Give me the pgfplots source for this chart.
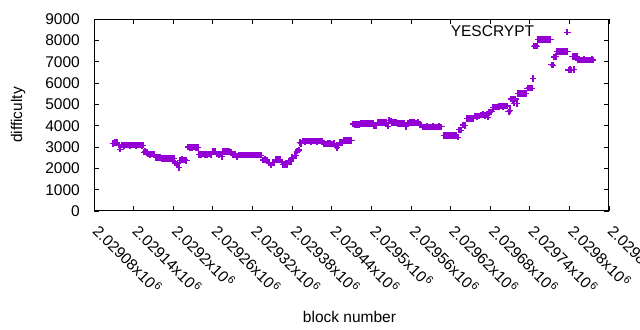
\documentclass[border=0pt]{standalone}
\usepackage{pgfplots}
\pgfplotsset{compat=1.18}
\usepackage{fontspec}
\setmainfont{Liberation Sans}
\definecolor{dv}{HTML}{9400D3}
\pgfdeclareplotmark{gpplus}{%
  \pgfsetlinewidth{1.1bp}%
  \pgfpathmoveto{\pgfqpoint{-\pgfplotmarksize}{0pt}}%
  \pgfpathlineto{\pgfqpoint{\pgfplotmarksize}{0pt}}%
  \pgfusepathqstroke
  \pgfsetlinewidth{2bp}%
  \pgfpathmoveto{\pgfqpoint{0pt}{-\pgfplotmarksize}}%
  \pgfpathlineto{\pgfqpoint{0pt}{\pgfplotmarksize}}%
  \pgfusepathqstroke
}
% x = block number - 2029000
\pgfplotstableread{
x y
109 3170
112 3200
115 3220
118 3100
120 2900
122 3100
125 3080
128 3090
131 3100
134 3080
137 3090
140 3100
143 3080
146 3090
149 3100
152 3080
154 3090
156 2760
158 2800
160 2750
162 2680
165 2660
168 2670
171 2660
174 2520
177 2500
180 2510
183 2470
186 2450
189 2460
192 2470
195 2450
198 2460
201 2450
203 2250
206 2200
209 2020
211 2380
214 2400
217 2390
220 2380
223 3000
226 2980
229 2990
232 3000
235 2980
237 2990
239 2660
242 2650
245 2670
248 2660
251 2650
254 2670
257 2660
260 2800
263 2780
266 2670
269 2660
272 2670
274 2550
276 2790
279 2780
282 2800
285 2790
288 2740
291 2650
294 2650
297 2550
300 2630
303 2620
306 2630
309 2620
312 2630
315 2620
318 2630
321 2620
324 2630
327 2620
330 2630
333 2620
336 2390
339 2400
342 2380
345 2290
348 2150
351 2270
353 2280
356 2410
359 2420
362 2410
364 2300
366 2180
369 2170
372 2190
375 2350
378 2330
380 2500
382 2480
384 2600
386 2620
388 2810
390 2860
392 3200
394 3150
396 3280
399 3270
402 3290
405 3280
408 3270
411 3290
414 3280
417 3270
420 3290
423 3280
426 3270
429 3160
432 3150
435 3170
438 3160
441 3150
444 3160
446 3050
448 2980
450 3050
452 3200
455 3210
458 3300
461 3310
464 3300
467 3310
470 3300
472 4080
475 4050
478 4060
481 4050
484 4100
487 4110
490 4090
493 4100
496 4110
499 4090
502 4100
504 4000
507 4010
510 4150
513 4160
516 4140
519 4150
522 4160
525 3980
527 4230
530 4220
532 4150
535 4160
538 4140
541 4100
544 4110
547 4100
550 4090
552 3960
555 4130
558 4140
561 4150
564 4140
567 4130
570 4140
573 4050
576 4040
579 3940
582 3930
585 3950
588 3940
591 3930
594 3950
597 3940
600 3930
603 3950
606 3940
610 3530
613 3540
616 3550
619 3540
622 3530
625 3540
628 3550
631 3460
633 3800
636 3790
639 4030
642 4020
645 4330
648 4340
651 4330
654 4340
657 4450
660 4440
663 4460
666 4500
669 4510
672 4490
675 4500
677 4400
679 4640
682 4650
685 4860
688 4880
691 4870
694 4890
697 4920
700 4910
703 4930
706 4920
708 4650
710 4700
712 5250
714 5220
716 5060
718 5250
720 5050
722 5500
725 5510
728 5520
731 5510
734 5500
737 5760
740 5770
743 5760
745 6220
747 7730
749 7740
751 7730
753 8040
756 8050
759 8040
762 8050
765 8040
768 8050
771 8040
773 6850
775 6840
777 7220
779 7230
782 7480
785 7490
788 7480
791 7470
794 7480
797 7490
799 6610
801 6620
803 6610
805 7240
807 6640
809 7240
811 7230
813 7080
816 7070
819 7080
822 7090
825 7080
828 7070
831 7080
834 7090
836 7080
}\yesdata
\begin{document}
\fontsize{15.5bp}{18bp}\selectfont
\begin{tikzpicture}
\begin{axis}[
  at={(94bp,119bp)}, anchor=south west,
  width=515bp, height=192bp, scale only axis,
  xmin=80, xmax=860, ymin=0, ymax=9000,
  xtick={80,140,200,260,320,380,440,500,560,620,680,740,800,860},
  xticklabels={2.02908x10\kern1bp\textsuperscript{6},2.02914x10\kern1bp\textsuperscript{6},2.0292x10\kern1bp\textsuperscript{6},2.02926x10\kern1bp\textsuperscript{6},2.02932x10\kern1bp\textsuperscript{6},2.02938x10\kern1bp\textsuperscript{6},2.02944x10\kern1bp\textsuperscript{6},2.0295x10\kern1bp\textsuperscript{6},2.02956x10\kern1bp\textsuperscript{6},2.02962x10\kern1bp\textsuperscript{6},2.02968x10\kern1bp\textsuperscript{6},2.02974x10\kern1bp\textsuperscript{6},2.0298x10\kern1bp\textsuperscript{6},2.02986x10\kern1bp\textsuperscript{6}},
  ytick={0,1000,...,9000},
  /pgf/number format/assume math mode=true,
  /pgf/number format/1000 sep={},
  tick align=inside,
  major tick length=4.5bp,
  axis line style={line width=1bp},
  every tick/.style={black, line width=0.8bp},
  yticklabel style={anchor=east, inner sep=0pt, xshift=-14bp},
  xticklabel style={yshift=-12bp, xshift=7bp, rotate=-45, anchor=north west, inner sep=0pt},
  xlabel={block number}, ylabel={difficulty},
  every axis x label/.style={at={(rel axis cs:0.5,0)}, anchor=center, yshift=-105.5bp, xshift=-2bp},
  every axis y label/.style={at={(rel axis cs:0,0.5)}, xshift=-76bp, rotate=90, anchor=center},
  legend plot pos=right,
  legend cell align=right,
  legend image code/.code={\draw[#1] plot coordinates {(0bp,0bp)};},
  legend style={draw=none, fill=none, at={(rel axis cs:0.926,0.932)}, anchor=east, inner sep=0pt, column sep=30bp, nodes={inner sep=0pt}},
]
\addplot[only marks, mark=gpplus, mark size=3.3bp, color=dv] table[x=x, y=y] {\yesdata};
\addlegendentry{YESCRYPT}
\end{axis}
\pgfresetboundingbox
\useasboundingbox (0,0) rectangle (640bp,330bp);
\end{tikzpicture}
\end{document}
